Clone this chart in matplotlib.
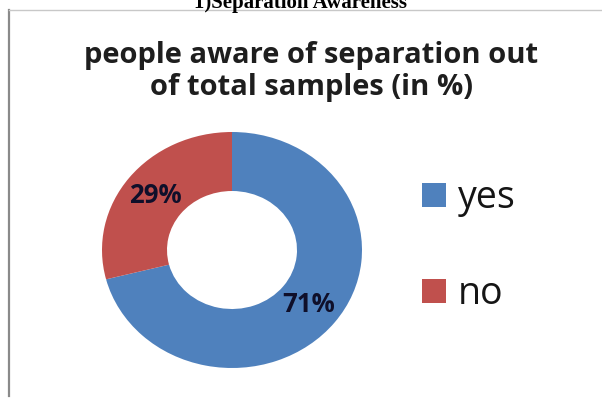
import matplotlib
matplotlib.use("Agg")
import matplotlib.pyplot as plt
from matplotlib.lines import Line2D
from matplotlib.patches import Rectangle

categories = ["yes", "no"]
values = [71, 29]
colors = ["#4F81BD", "#C0504D"]
title_lines = ["people aware of separation out", "of total samples (in %)"]
heading = "1)Separation Awareness"

W, H = 602, 398
fig = plt.figure(figsize=(W / 100, H / 100), dpi=100)
fig.patch.set_facecolor("white")

def fx(px):
    return px / W

def fy(py):
    return 1 - py / H

# frame lines
fig.add_artist(Line2D([fx(9), fx(9)], [fy(10), fy(396)], color="#8a8a8a", lw=1.6))
fig.add_artist(Line2D([fx(9), fx(602)], [fy(10), fy(10)], color="#c8c8c8", lw=1.0))

# heading (cut at top, as in the source)
fig.text(fx(301), fy(8), heading, ha="center", va="baseline",
         fontsize=15, fontweight="bold", family="Liberation Serif", color="black")

# chart title (two lines, baselines set separately)
for line, base in zip(title_lines, [63, 95]):
    fig.text(fx(311), fy(base), line, ha="center", va="baseline", fontsize=21,
             fontweight="bold", family="Open Sans", color="#1e1e1e")

# donut
ax = fig.add_axes([fx(102), fy(368), (362 - 102) / W, (368 - 132) / H])
wedges, texts, autotexts = ax.pie(
    values, colors=colors, startangle=90, counterclock=False, radius=1.0,
    wedgeprops=dict(width=0.5, edgecolor="none"),
    autopct=lambda p: f"{p:.0f}%", pctdistance=0.75,
    textprops=dict(fontsize=18.5, fontweight="bold", family="Open Sans", color="#0f0f2a"))
ax.set_aspect("auto")
ax.set_xlim(-1, 1)
ax.set_ylim(-1, 1)
ax.axis("off")

# legend
ys = [195, 291]
for cat, col, y in zip(categories, colors, ys):
    fig.add_artist(Rectangle((fx(422), fy(y + 12)), 24 / W, 24 / H, facecolor=col,
                             edgecolor="none", transform=fig.transFigure))
    fig.text(fx(458), fy(y + 13), cat, ha="left", va="baseline", fontsize=27,
             family="Open Sans", color="#151515")

fig.savefig("out.png", dpi=100, facecolor="white")
